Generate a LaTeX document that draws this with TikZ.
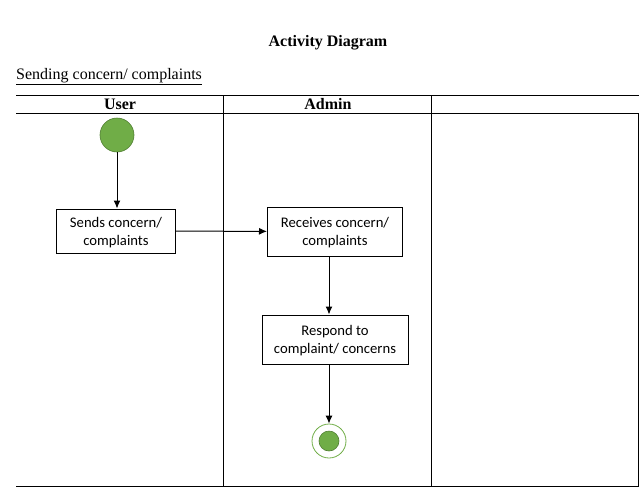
\documentclass[tikz,border=0pt]{standalone}
\usepackage{fontspec}
\setmainfont{Liberation Serif}
\newfontfamily\boxfont{Carlito}
\usetikzlibrary{arrows.meta}
\definecolor{nodegreen}{HTML}{70AD47}
\definecolor{rimgreen}{HTML}{507E32}

\begin{document}
\begin{tikzpicture}[x=1pt,y=-1pt,>={Latex[length=8pt,width=7pt]},
  every node/.style={font=\fontsize{16}{19}\selectfont},
  action/.style={draw,line width=1pt,align=center,inner sep=0pt,
    font=\boxfont\fontsize{14.67}{18}\selectfont}]
\useasboundingbox (0,0) rectangle (641,499);

\node[font=\bfseries\fontsize{16}{19}\selectfont] (title) at (328,43) {Activity Diagram};
\node[anchor=base west,inner sep=0pt] (sub) at (16,79) {\underline{Sending concern/ complaints}};

% swimlanes
\draw[line width=1pt] (16,95) -- (639,95);
\draw[line width=1pt] (16,113) -- (639,113);
\draw[line width=1pt] (16,486) -- (639,486);
\foreach \x in {223,431}
{
  \draw[line width=1pt] (\x,95) -- (\x,486);
}
\draw[line width=1pt] (638.5,113) -- (638.5,486);

\node[font=\bfseries\fontsize{16}{19}\selectfont] (user) at (120,104.5) {User};
\node[font=\bfseries\fontsize{16}{19}\selectfont] (admin) at (328,104.5) {Admin};

% activities
\node[circle,fill=nodegreen,draw=rimgreen,line width=0.6pt,minimum size=34pt,inner sep=0pt] (start) at (117,135) {};
\node[action,minimum width=119pt,minimum height=44pt] (sends) at (116,231) {\strut Sends concern/\\complaints};
\node[action,minimum width=135pt,minimum height=49pt] (receives) at (335,231.5) {\strut Receives concern/\\complaints};
\node[action,minimum width=146pt,minimum height=49pt] (respond) at (335,339.5) {\strut Respond to\\complaint/ concerns};
\node[circle,draw=nodegreen,line width=0.8pt,minimum size=34pt,inner sep=0pt] (end) at (329,441) {};
\fill[nodegreen,draw=rimgreen,line width=0.6pt] (end.center) circle (10);

\draw[->,line width=1pt] (start) -- (start |- sends.north);
\draw[->,line width=1pt] (sends) -- (receives);
\draw[->,line width=1pt] (receives.south -| end) -- (respond.north -| end);
\draw[->,line width=1pt] (respond.south -| end) -- (end);
\end{tikzpicture}
\end{document}
